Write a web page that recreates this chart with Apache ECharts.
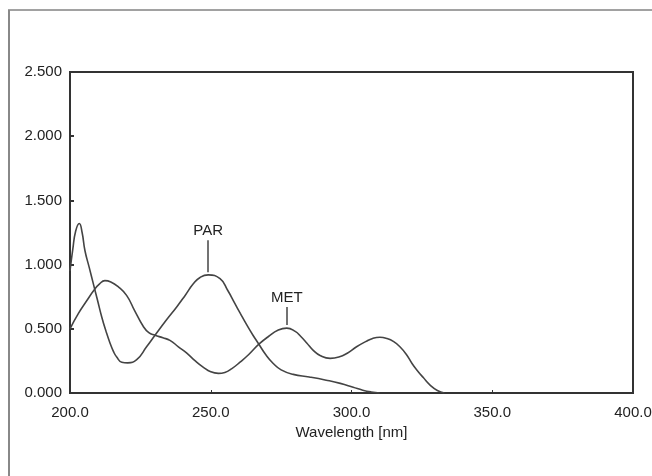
<!DOCTYPE html>
<html>
<head>
<meta charset="utf-8">
<script src="https://cdn.jsdelivr.net/npm/echarts@6/dist/echarts.min.js"></script>
<style>
    html, body { margin: 0; padding: 0; background: #fff; }
    #chart { width: 652px; height: 476px; }
</style>
</head>
<body>
<div id="chart"></div>
<script>
// wavelength [nm], absorbance
const parData = [
    [200, 0.95], [201, 1.12], [202, 1.26], [203.3, 1.32], [204.3, 1.25], [205.3, 1.11],
    [206.8, 0.98], [208.3, 0.85], [209.8, 0.72], [211.3, 0.59], [212.8, 0.48], [214.2, 0.39],
    [215.5, 0.32], [216.6, 0.28], [218.4, 0.24], [220.5, 0.235], [223.7, 0.26], [227.2, 0.36],
    [230.2, 0.45], [234.3, 0.57], [237.9, 0.67], [240.9, 0.76], [243.8, 0.85], [246.2, 0.9],
    [249.1, 0.92], [253.3, 0.89], [256, 0.8], [258.5, 0.7], [260.5, 0.62], [262.8, 0.53],
    [265, 0.45], [267.1, 0.38], [269.5, 0.3], [272.2, 0.23], [275, 0.18], [279.3, 0.145],
    [285, 0.125], [291, 0.1], [296, 0.075], [300.6, 0.045], [304, 0.022], [307, 0.008], [310, 0]
];
const metData = [
    [200, 0.5], [203, 0.62], [206, 0.72], [208.5, 0.8], [210.5, 0.85], [212.4, 0.875],
    [214.5, 0.865], [217, 0.83], [220.1, 0.76], [223, 0.64], [226, 0.52], [228, 0.47],
    [230.2, 0.45], [233, 0.43], [235.5, 0.41], [238.5, 0.36], [241.5, 0.31], [244.5, 0.25],
    [247.4, 0.2], [250, 0.165], [252.7, 0.153], [255, 0.16], [257.5, 0.19], [260.4, 0.24],
    [263.5, 0.3], [267.1, 0.38], [270.5, 0.44], [274, 0.49], [277, 0.505], [280, 0.48],
    [282, 0.44], [284.1, 0.39], [286.5, 0.33], [289, 0.29], [292.4, 0.27], [295.5, 0.28],
    [298.5, 0.31], [301.8, 0.36], [305, 0.4], [307.5, 0.425], [310.1, 0.434], [312.5, 0.425],
    [315, 0.4], [317.2, 0.36], [319.5, 0.3], [321.5, 0.23], [323.2, 0.18], [325.5, 0.12],
    [328, 0.06], [330.5, 0.02], [333, 0]
];
// peak labels: [wavelength, line top, line bottom]
const parMark = [249.1, 1.19, 0.94];
const metMark = [277, 0.67, 0.53];

const xTicks = { min: 200, max: 400, step: 50 };
const yTicks = { min: 0, max: 2.5, step: 0.5 };

const ink = "#444";
const font = "Liberation Sans, Arial, sans-serif";

function peakLabel(name, m) {
    return {
        silent: true,
        symbol: "none",
        lineStyle: { color: ink, width: 1.5, type: "solid" },
        label: {
            show: true,
            position: "start",
            distance: 2,
            formatter: name,
            color: "#222",
            fontSize: 15,
            fontFamily: font
        },
        data: [[{ coord: [m[0], m[1]] }, { coord: [m[0], m[2]] }]]
    };
}

let chart = echarts.init(document.getElementById("chart"), null, { renderer: "canvas" });
const option = {
    animation: false,
    backgroundColor: "#fff",
    grid: {
        left: 70,
        right: 19,
        top: 72,
        bottom: 83,
        outerBoundsMode: "none",
        containLabel: false,
        show: true,
        borderColor: "#333",
        borderWidth: 2
    },
    graphic: [
        // outer frame (top and left edges only)
        { type: "line", shape: { x1: 8, y1: 10, x2: 652, y2: 10 }, style: { stroke: "#444", lineWidth: 1 } },
        { type: "line", shape: { x1: 9, y1: 10, x2: 9, y2: 476 }, style: { stroke: "#888", lineWidth: 2 } }
    ],
    xAxis: {
        type: "value",
        min: xTicks.min,
        max: xTicks.max,
        interval: xTicks.step,
        name: "Wavelength [nm]",
        nameLocation: "middle",
        nameGap: 29,
        nameTextStyle: { color: "#222", fontSize: 15, fontFamily: font },
        axisLine: { show: true, lineStyle: { color: "#333", width: 2 } },
        axisTick: { show: true, inside: true, length: 3, lineStyle: { color: "#333" } },
        splitLine: { show: false },
        axisLabel: {
            margin: 12,
            color: "#222",
            fontSize: 15,
            fontFamily: font,
            formatter: v => v.toFixed(1)
        }
    },
    yAxis: {
        type: "value",
        min: yTicks.min,
        max: yTicks.max,
        interval: yTicks.step,
        axisLine: { show: true, lineStyle: { color: "#333", width: 2 } },
        axisTick: { show: true, inside: true, length: 4, lineStyle: { color: "#333", width: 2 } },
        splitLine: { show: false },
        axisLabel: {
            margin: 8,
            color: "#222",
            fontSize: 15,
            fontFamily: font,
            formatter: v => v.toFixed(3)
        }
    },
    series: [
        {
            name: "PAR",
            type: "line",
            data: parData,
            smooth: 0.5,
            showSymbol: false,
            lineStyle: { color: ink, width: 1.6 },
            markLine: peakLabel("PAR", parMark)
        },
        {
            name: "MET",
            type: "line",
            data: metData,
            smooth: 0.5,
            showSymbol: false,
            lineStyle: { color: ink, width: 1.6 },
            markLine: peakLabel("MET", metMark)
        }
    ]
};
chart.setOption(option);
</script>
</body>
</html>
